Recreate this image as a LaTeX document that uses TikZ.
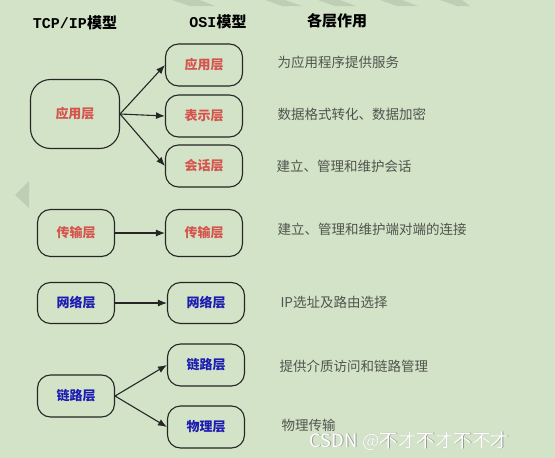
\documentclass[tikz,border=0pt]{standalone}
\usepackage{fontspec}
\usepackage{xcolor}
\usepackage{tikz}
\usetikzlibrary{arrows.meta}
\usetikzlibrary{positioning}
\setmainfont{Noto Sans CJK SC}
\newfontfamily\monofont{Liberation Mono}
\definecolor{slidebg}{RGB}{211,227,199}
\definecolor{upperred}{RGB}{214,84,78}
\definecolor{lowerblue}{RGB}{28,28,178}
\definecolor{desctext}{RGB}{80,84,78}
\definecolor{fadegray}{RGB}{190,206,180}
\tikzstyle{layer} = [draw=black!85, line width=1.1pt, rounded corners=13pt, minimum width=77pt, minimum height=42pt, inner sep=0pt, font=\fontsize{13}{15}\selectfont\bfseries]
\tikzstyle{upper} = [layer, text=upperred]
\tikzstyle{lower} = [layer, text=lowerblue]
\tikzstyle{desc} = [anchor=west, text=desctext, font=\fontsize{13.5}{15}\selectfont]
\tikzstyle{head} = [font=\fontsize{15}{17}\selectfont\bfseries]
\tikzstyle{link} = [draw, line width=1.1pt, -{Latex[length=9pt, width=7pt]}, black!85]

\begin{document}
\begin{tikzpicture}[x=1pt, y=-1pt]

\fill [slidebg] (0,0) rectangle (555,458);
\useasboundingbox (0,0) rectangle (555,458);

% faded slide marks
\fill [fadegray] (15,195) -- (29,181) -- (29,208) -- cycle;
\fill [fadegray] (172,0) -- (190,6) -- (215,6) -- (200,0) -- cycle;
\fill [fadegray] (265,0) -- (282,6) -- (302,6) -- (285,0) -- cycle;
\fill [fadegray] (318,0) -- (335,6) -- (356,6) -- (340,0) -- cycle;
\fill [fadegray] (380,0) -- (397,6) -- (418,6) -- (402,0) -- cycle;
\fill [fadegray] (440,0) -- (457,6) -- (470,6) -- (462,0) -- cycle;

%% headers

\node [head] at (75,23) (htcp) {{\monofont TCP/IP}模型};
\node [head] at (218,22) (hosi) {{\monofont OSI}模型};
\node [head] at (337,21) (hrole) {各层作用};

%% TCP/IP side

\node [upper, minimum width=89pt, minimum height=69pt, rounded corners=20pt] at (75,114) (t1) {应用层};
\node [upper, minimum height=47pt] at (76,233) (t2) {传输层};
\node [lower, minimum height=41pt] at (76,303) (t3) {网络层};
\node [lower] at (76,396) (t4) {链路层};

%% OSI side

\node [upper] at (204,65) (o1) {应用层};
\node [upper] at (204,116) (o2) {表示层};
\node [upper] at (204,166) (o3) {会话层};
\node [upper, minimum height=47pt] at (204,233) (o4) {传输层};
\node [lower, minimum height=41pt] at (206,303) (o5) {网络层};
\node [lower] at (206,365) (o6) {链路层};
\node [lower] at (206,427) (o7) {物理层};

\path [link] (t1.east) to (o1.west);
\path [link] (t1.east) to (o2.west);
\path [link] (t1.east) to (o3.west);
\path [link] (t2) to (o4);
\path [link] (t3) to (o5);
\path [link] (t4.east) to (o6.west);
\path [link] (t4.east) to (o7.west);

%% roles

\node [desc] at (274,62) (d1) {为应用程序提供服务};
\node [desc] at (274,114) (d2) {数据格式转化、数据加密};
\node [desc] at (273,166) (d3) {建立、管理和维护会话};
\node [desc] at (274,229) (d4) {建立、管理和维护端对端的连接};
\node [desc] at (277,302) (d5) {IP选址及路由选择};
\node [desc] at (276,366) (d6) {提供介质访问和链路管理};
\node [desc] at (278,425) (d7) {物理传输};

%% watermark

\node [anchor=west, text=black!40, font=\fontsize{18.5}{20}\selectfont] at (306.7,441.7) (wms) {CSDN @不才不才不不才};
\node [anchor=west, text=white, font=\fontsize{18.5}{20}\selectfont] at (306,441) (wm) {CSDN @不才不才不不才};

\end{tikzpicture}
\end{document}
